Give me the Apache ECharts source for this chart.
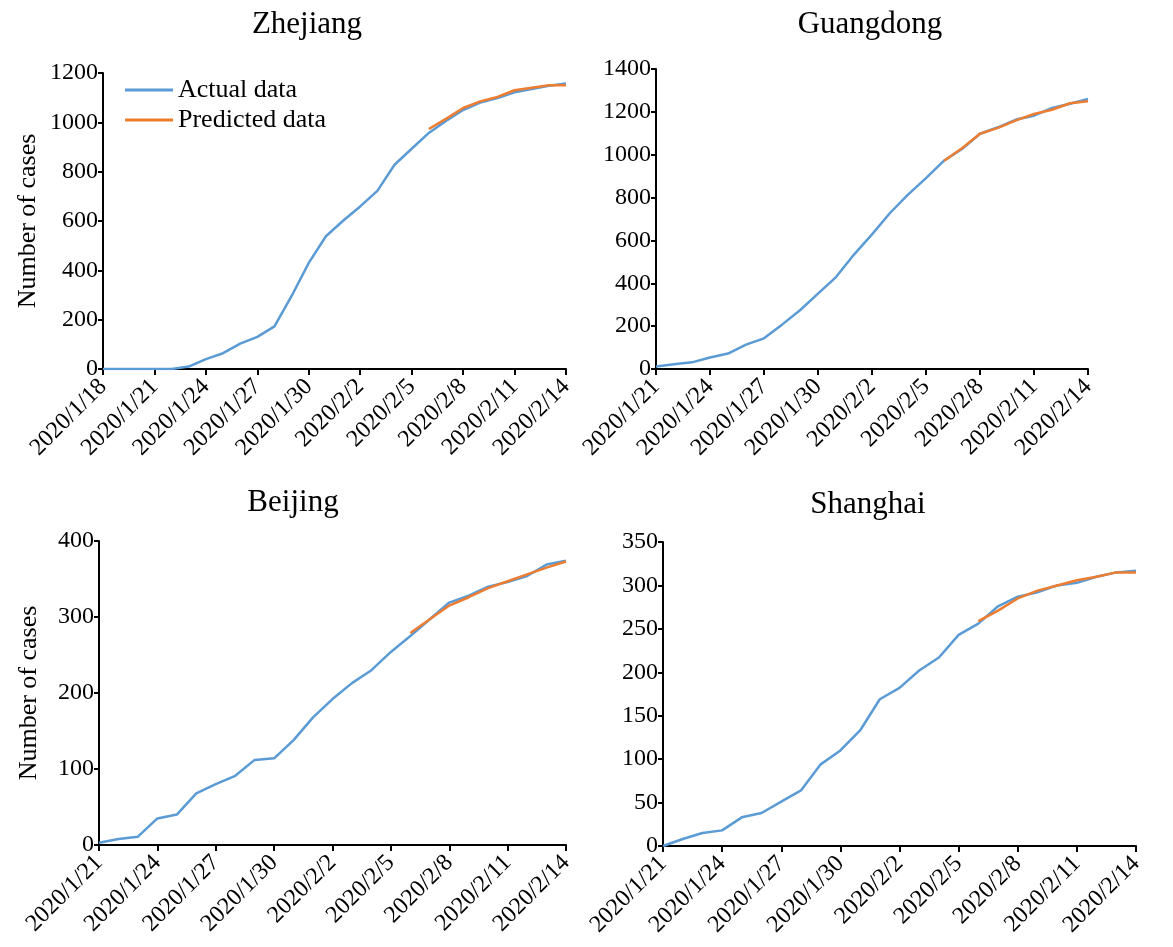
<!DOCTYPE html>
<html>
<head>
<meta charset="utf-8">
<style>
  html, body { margin: 0; padding: 0; background: #fff; }
  #chart { width: 1173px; height: 947px; }
</style>
<script src="https://cdn.jsdelivr.net/npm/echarts@6/dist/echarts.min.js"></script>
</head>
<body>
<div id="chart"></div>
<script>
// Daily dates (Zhejiang panel starts three days earlier than the others)
const datesZJ = ['2020/1/18','2020/1/19','2020/1/20','2020/1/21','2020/1/22','2020/1/23','2020/1/24',
  '2020/1/25','2020/1/26','2020/1/27','2020/1/28','2020/1/29','2020/1/30','2020/1/31','2020/2/1',
  '2020/2/2','2020/2/3','2020/2/4','2020/2/5','2020/2/6','2020/2/7','2020/2/8','2020/2/9',
  '2020/2/10','2020/2/11','2020/2/12','2020/2/13','2020/2/14'];
const datesOther = ['2020/1/21','2020/1/22','2020/1/23','2020/1/24','2020/1/25','2020/1/26','2020/1/27',
  '2020/1/28','2020/1/29','2020/1/30','2020/1/31','2020/2/1','2020/2/2','2020/2/3','2020/2/4',
  '2020/2/5','2020/2/6','2020/2/7','2020/2/8','2020/2/9','2020/2/10','2020/2/11','2020/2/12',
  '2020/2/13','2020/2/14'];

// Cumulative confirmed cases
const zhejiangActual = [0,0,0,0,0,10,40,64,103,130,173,296,430,538,601,659,722,828,893,957,1006,1050,1080,1098,1122,1135,1148,1157];
const guangdongActual = [12,22,31,54,72,114,143,207,274,352,429,534,628,728,814,891,972,1027,1098,1128,1164,1182,1218,1238,1260];
const beijingActual = [3,8,11,35,40,68,80,91,112,114,138,168,192,213,230,254,275,297,319,328,340,346,354,369,374];
const shanghaiActual = [0,8,15,18,33,38,51,64,94,110,133,169,182,202,217,243,256,276,287,292,300,303,310,315,317];

// Model predictions, from 2020/2/6 to 2020/2/14
const predictionStart = '2020/2/6';
const zhejiangPredicted = [973,1014,1058,1085,1103,1130,1140,1150,1150];
const guangdongPredicted = [972,1030,1098,1125,1160,1190,1210,1240,1250];
const beijingPredicted = [279,297,315,326,338,347,356,365,373];
const shanghaiPredicted = [259,271,285,294,300,306,310,315,315];

// Y axis ranges
const yMax = [1200, 1400, 400, 350];
const yStep = [200, 200, 100, 50];
const panelTitles = ['Zhejiang', 'Guangdong', 'Beijing', 'Shanghai'];

const FONT = "'Liberation Serif', 'Times New Roman', serif";
const BLUE = '#5B9BD5';
const ORANGE = '#ED7D31';

function alignPrediction(dates, values) {
  const start = dates.indexOf(predictionStart);
  return dates.map((d, i) => (i >= start ? values[i - start] : null));
}

const panels = [
  { dates: datesZJ, actual: zhejiangActual, pred: zhejiangPredicted, grid: { left: 103, top: 73, width: 463, height: 296 }, yName: 'Number of cases', nameGap: 62 },
  { dates: datesOther, actual: guangdongActual, pred: guangdongPredicted, grid: { left: 656, top: 69, width: 432, height: 300 }, yName: '', nameGap: 60 },
  { dates: datesOther, actual: beijingActual, pred: beijingPredicted, grid: { left: 99, top: 541, width: 467, height: 304 }, yName: 'Number of cases', nameGap: 57 },
  { dates: datesOther, actual: shanghaiActual, pred: shanghaiPredicted, grid: { left: 663, top: 542, width: 473, height: 304 }, yName: '', nameGap: 60 }
];

const titlePos = [
  { left: 307, top: 9 },
  { left: 870, top: 9 },
  { left: 293, top: 487 },
  { left: 868, top: 489 }
];

const axisLine = { show: true, lineStyle: { color: '#000', width: 2 } };

const option = {
  backgroundColor: '#fff',
  animation: false,
  title: panelTitles.map((t, i) => ({
    text: t,
    left: titlePos[i].left,
    top: titlePos[i].top,
    textAlign: 'center',
    padding: 0,
    textStyle: { fontFamily: FONT, fontSize: 31, fontWeight: 'normal', color: '#000' }
  })),
  legend: {
    data: ['Actual data', 'Predicted data'],
    orient: 'vertical',
    left: 125,
    top: 75,
    padding: 0,
    icon: 'rect',
    itemWidth: 48,
    itemHeight: 3,
    itemGap: 0,
    textStyle: { fontFamily: FONT, fontSize: 26, color: '#000', lineHeight: 30 }
  },
  grid: panels.map(p => Object.assign({ containLabel: false }, p.grid)),
  xAxis: panels.map((p, i) => ({
    type: 'category',
    gridIndex: i,
    data: p.dates,
    boundaryGap: false,
    axisLine: axisLine,
    axisTick: { show: true, interval: 2, length: 6, inside: false, lineStyle: { color: '#000', width: 2 } },
    axisLabel: { interval: 2, rotate: 45, margin: 14, fontFamily: FONT, fontSize: 24, color: '#000' },
    splitLine: { show: false }
  })),
  yAxis: panels.map((p, i) => ({
    type: 'value',
    gridIndex: i,
    min: 0,
    max: yMax[i],
    interval: yStep[i],
    name: p.yName,
    nameLocation: 'middle',
    nameGap: p.nameGap,
    nameTextStyle: { fontFamily: FONT, fontSize: 26, color: '#000' },
    axisLine: axisLine,
    axisTick: { show: true, length: 5, lineStyle: { color: '#000', width: 2 } },
    axisLabel: { margin: 5, fontFamily: FONT, fontSize: 24, color: '#000', formatter: v => String(v) },
    splitLine: { show: false }
  })),
  series: []
};

panels.forEach((p, i) => {
  option.series.push({
    name: 'Actual data',
    type: 'line',
    xAxisIndex: i,
    yAxisIndex: i,
    data: p.actual,
    symbol: 'none',
    lineStyle: { color: BLUE, width: 2.5 },
    itemStyle: { color: BLUE },
    z: 2
  });
  option.series.push({
    name: 'Predicted data',
    type: 'line',
    xAxisIndex: i,
    yAxisIndex: i,
    data: alignPrediction(p.dates, p.pred),
    symbol: 'none',
    connectNulls: false,
    lineStyle: { color: ORANGE, width: 2.5 },
    itemStyle: { color: ORANGE },
    z: 3
  });
});

const chart = echarts.init(document.getElementById('chart'), null, { renderer: 'canvas' });
chart.setOption(option);
</script>
</body>
</html>
